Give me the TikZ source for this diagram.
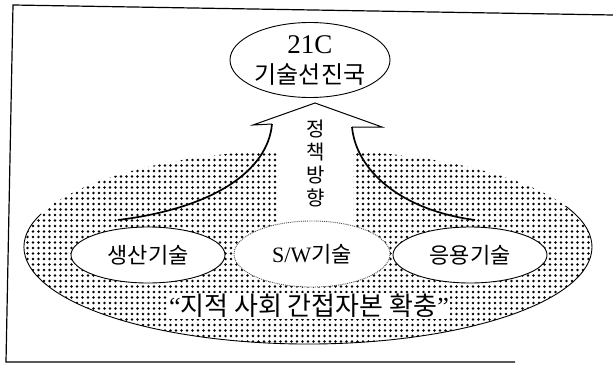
\documentclass[tikz,border=0pt]{standalone}
\usepackage{fontspec}
\setmainfont{Liberation Serif}
\newfontfamily\kr{Noto Sans CJK KR}
\usetikzlibrary{patterns.meta, shapes.geometric}

% Chấm in nền cho hình elip lớn
\tikzdeclarepattern{
  name=scandots,
  type=uncolored,
  bottom left={(-2.75pt,-2.75pt)},
  top right={(2.75pt,2.75pt)},
  tile size={(5.5pt,5.5pt)},
  code={\pgfpathcircle{\pgfpointorigin}{1.35pt}\pgfusepath{fill}}
}

\begin{document}
\begin{tikzpicture}[x=1pt, y=-1pt,
    oval/.style={ellipse, draw, fill=white, line width=0.9pt, inner sep=0pt,
                 minimum width=154pt, minimum height=56pt},
    txt/.style={font=\fontsize{22}{24}\selectfont}]
    \useasboundingbox (0,0) rectangle (613,369);

    % Khung ngoài (không có cạnh phải)
    \draw[line width=1.2pt] (613,15) -- (13,5) -- (6,362) -- (515,362);

    % Hình elip lớn tô chấm
    \fill[pattern=scandots] (308,247) ellipse [x radius=284, y radius=97];
    \draw[line width=0.9pt] (308,247) ++(200:284 and 97)
        arc[start angle=200, end angle=-25, x radius=284, y radius=97];

    % Thân mũi tên màu trắng
    \fill[white] (277,124) rectangle (353,240);

    % Ba hình elip nhỏ
    \node[oval, txt] (prod) at (148,255) {{\kr 생산기술}};
    \node[oval, txt, draw=black!70, densely dotted, minimum width=156pt, minimum height=66pt]
        (sw) at (312,254) {S/W{\kr 기술}};
    \node[oval, txt] (app) at (470,255) {{\kr 응용기술}};

    % Đầu mũi tên và hai đường cong
    \coordinate (tip) at (315,103);
    \coordinate (lbarb) at (253,125);
    \coordinate (rbarb) at (382,127);
    \coordinate (lin) at (272,124);
    \coordinate (rin) at (352,127);
    \coordinate (lend) at (118,220);
    \coordinate (rend) at (475,220);
    \draw[line width=1pt, line join=miter] (lin) -- (lbarb) -- (tip) -- (rbarb) -- (rin);
    \draw[line width=1.7pt] (lin) .. controls (268,170) and (215,208) .. (lend);
    \draw[line width=1.7pt] (rin) .. controls (356,170) and (400,210) .. (rend);

    % Chữ dọc trong thân mũi tên
    \node[font=\fontsize{20}{23}\selectfont, align=center, inner sep=0pt] (dir) at (316,163)
        {\kr 정\\\kr 책\\\kr 방\\\kr 향};

    % Hình elip trên cùng
    \node[oval, align=center, font=\fontsize{24}{30}\selectfont,
          minimum width=160pt, minimum height=75pt] (goal) at (310,60)
        {{\fontsize{27}{30}\selectfont 21C}\\{\kr 기술선진국}};

    % Dòng chữ dưới cùng
    \node[fill=white, inner sep=1pt, font=\fontsize{26}{28}\selectfont] (base) at (309,306)
        {“{\kr 지적 사회 간접자본 확충}”};
\end{tikzpicture}
\end{document}
